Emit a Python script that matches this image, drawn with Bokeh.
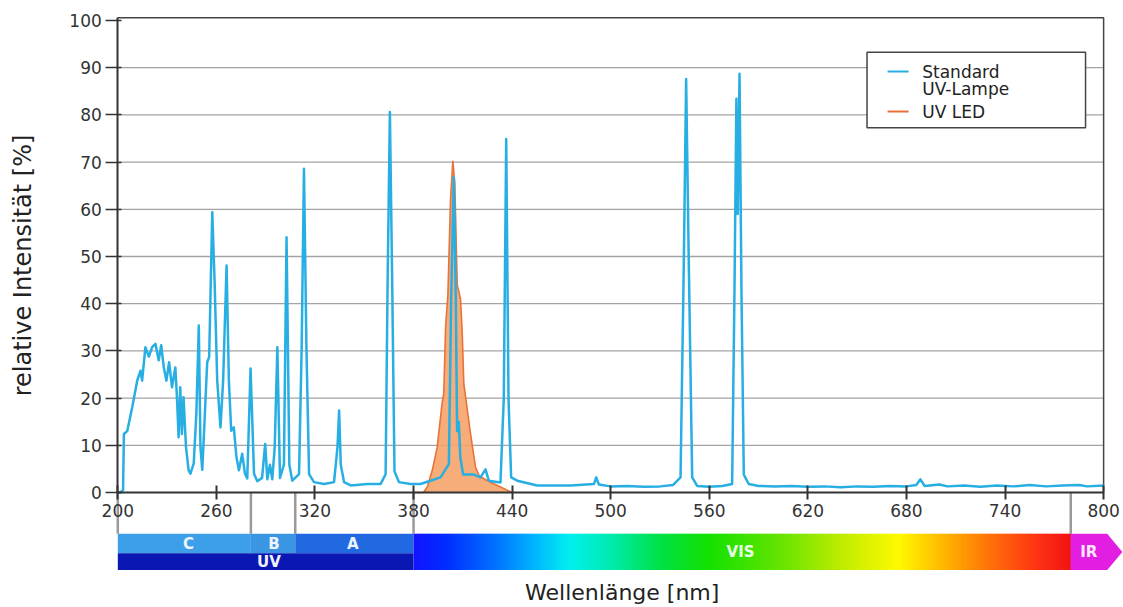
import numpy as np
from bokeh.plotting import figure
from bokeh.models import FixedTicker, Range1d
from bokeh.core.properties import value
from bokeh.embed import file_html
from bokeh.resources import INLINE

# ---------------- data ----------------
lamp_wl = [200, 201.5, 203.2, 203.7, 205.7, 208.8, 211.8, 213.8, 214.8, 216.8, 218.9, 220.9,
           222.9, 224.9, 226.4, 228, 229.6, 231.2, 233, 235, 236, 237, 238, 239, 240, 241.5,
           243.1, 244.2, 246.2, 247.8, 249.3, 250.3, 251.4, 253, 254.4, 255.6, 257.5, 258.9,
           260.5, 262.5, 264.1, 266.2, 267.6, 269, 270.6, 272.2, 273.7, 275.7, 277.4, 278.8,
           280.8, 282.9, 284.9, 287.8, 289.7, 291, 292.6, 294, 295.5, 297.1, 298.7, 301.1,
           302.7, 304.4, 306.2, 310.3, 311.9, 313.3, 314.8, 316.4, 319.4, 325.5, 331.6, 333.7,
           334.7, 335.7, 337.7, 341.8, 351.9, 360, 363, 364.2, 365.6, 367, 368.4, 371.1, 378.2,
           384.2, 390.3, 396.4, 401.5, 402.9, 404.5, 405.7, 406.5, 407.5, 408.5, 410.2, 416.7,
           420.7, 423.8, 425.8, 432.9, 434.9, 436.4, 437.8, 439.4, 443.1, 455.3, 475.6, 489.8,
           491.2, 492.8, 500, 510, 520, 530, 538, 542.5, 544.5, 545.9, 547.5, 549.6, 552.6, 560,
           568, 573.9, 575.3, 576.5, 577.3, 578.4, 579.6, 581, 584, 590, 600, 610, 620, 630, 640,
           650, 660, 670, 680, 686, 688.5, 691, 700, 705, 715, 725, 735, 745, 755, 765, 775, 785,
           790, 800]
lamp_int = [0, 0, 0.5, 12.4, 13, 18.1, 23.7, 25.8, 23.7, 30.8, 28.8, 30.8,
            31.5, 28, 31.2, 26.5, 23.7, 27.6, 22.3, 26.5, 20.2, 11.7, 22.3, 12.4, 20.2, 9.6,
            4.7, 4, 6.1, 16.7, 35.4, 9.6, 4.8, 16.7, 27.6, 28.7, 59.4, 44.8,
            23.7, 13.8, 23.7, 48.1, 23.7, 13.1, 13.8, 7.5, 4.7, 8.2, 4, 3,
            26.3, 4, 2.4, 3.1, 10.3, 2.8, 5.9, 2.8, 9.6, 30.8, 3.1, 5.9,
            54.1, 5.9, 2.5, 3.9, 30.8, 68.6, 30.8, 3.9, 2.2, 1.8, 2.2, 9.6,
            17.4, 5.9, 2.2, 1.5, 1.8, 1.8, 3.9, 44.5, 80.6, 44.5, 4.5, 2.2, 1.8,
            1.8, 2.5, 3.2, 6, 41.3, 66.8, 41.3, 13, 15, 7.3, 3.8, 3.8,
            3.2, 4.9, 2.5, 2.1, 19.8, 74.9, 19.8, 3.2, 2.5, 1.5, 1.5, 1.8,
            3.2, 1.7, 1.3, 1.4, 1.2, 1.3, 1.6, 3.2, 49, 87.6, 49, 3.2, 1.4, 1.2,
            1.4, 1.8, 42, 83.4, 59, 88.7, 42, 3.8, 1.8, 1.4, 1.3, 1.4, 1.2, 1.3, 1.1,
            1.3, 1.2, 1.4, 1.3, 1.6, 2.8, 1.4, 1.7, 1.3, 1.5, 1.2, 1.5, 1.3, 1.6, 1.3, 1.5, 1.6,
            1.3, 1.5]

led_wl = [380, 386, 388.3, 391.4, 394.4, 397.4, 398.4, 399.5, 400.9, 402.5, 403.9, 405.1,
          406.6, 408.6, 409.6, 410.6, 414.7, 417.7, 420, 425, 431, 437, 440]
led_int = [0, 0, 1.1, 4.7, 9.6, 19, 21, 35, 42, 62, 70.3, 65.5,
           44, 41, 34, 23, 12.4, 5.4, 3.5, 2.5, 1.5, 0.5, 0]

x_ticks = [200, 260, 320, 380, 440, 500, 560, 620, 680, 740, 800]
y_ticks = [0, 10, 20, 30, 40, 50, 60, 70, 80, 90, 100]

uv_sub_names = ["C", "B", "A"]
uv_sub_start = [200, 281, 308]
uv_sub_end = [281, 308, 380]
uv_name, uv_start, uv_end = "UV", 200, 380
vis_name, vis_start, vis_end = "VIS", 380, 780
ir_name, ir_start, ir_end = "IR", 780, 811.4
band_edges = [200, 281, 308, 380, 780]

legend_labels = ["Standard", "UV-Lampe", "UV LED"]
x_label = "Wellenlänge [nm]"
y_label = "relative Intensität [%]"

# ---------------- style ----------------
FONT = "DejaVu Sans"
LAMP = "#27aee3"
LED_LINE = "#e8733a"
LED_FILL = "#f6a46c"
AX = "#333333"
GRID = "#a3a3a3"
Y_TOP = 100.6
BAND_TOP, BAND_MID, BAND_BOT = -8.75, -12.86, -16.42

p = figure(width=1123, height=606, output_backend="svg", toolbar_location=None,
           x_range=Range1d(128.6, 812.1), y_range=Range1d(-24.15, 104.24),
           min_border_left=0, min_border_right=0, min_border_top=0, min_border_bottom=0)
p.outline_line_color = None
p.grid.visible = False
p.background_fill_color = "white"

# x axis at y = 0
xa = p.xaxis[0]
xa.fixed_location = 0
xa.ticker = FixedTicker(ticks=x_ticks)
xa.bounds = (200, 800)
xa.major_tick_in = 7
xa.major_tick_out = 7
xa.major_tick_line_width = 2
xa.major_tick_line_color = AX
xa.minor_tick_line_color = None
xa.axis_line_width = 2
xa.axis_line_color = AX
xa.major_label_text_font = FONT
xa.major_label_text_font_size = "17px"
xa.major_label_text_color = AX
xa.major_label_standoff = 4

# y axis at x = 200
ya = p.yaxis[0]
ya.fixed_location = 200
ya.ticker = FixedTicker(ticks=y_ticks)
ya.bounds = (0, Y_TOP)
ya.major_tick_in = 4
ya.major_tick_out = 12
ya.major_tick_line_width = 1.5
ya.major_tick_line_color = AX
ya.minor_tick_line_color = None
ya.axis_line_width = 2
ya.axis_line_color = AX
ya.major_label_text_font = FONT
ya.major_label_text_font_size = "17px"
ya.major_label_text_color = AX
ya.major_label_standoff = 4

# horizontal grid lines and box
grid_y = [t for t in y_ticks if 0 < t < 100]
p.segment(x0=200, x1=800, y0=grid_y, y1=grid_y, line_color=GRID, line_width=1.3)
p.line(x=[200, 800, 800], y=[Y_TOP, Y_TOP, 0], line_color="#444444", line_width=1.5)

# UV LED
p.varea(x=led_wl, y1=0, y2=led_int, fill_color=LED_FILL, fill_alpha=0.9)
p.line(x=led_wl, y=led_int, line_color=LED_LINE, line_width=1.6)

# Standard lamp
p.line(x=lamp_wl, y=lamp_int, line_color=LAMP, line_width=2.5, line_join="round")

# connectors down to the spectrum bar
p.segment(x0=band_edges, x1=band_edges, y0=0, y1=BAND_TOP, line_color="#9a9a9a", line_width=2.5)

# UV sub bands
p.quad(left=uv_sub_start, right=uv_sub_end, top=BAND_TOP, bottom=BAND_MID,
       fill_color=["#3d9fe8", "#3a96e2", "#2169e0"], line_color=None)
p.quad(left=[uv_start], right=[uv_end], top=BAND_MID, bottom=BAND_BOT,
       fill_color="#0b17b3", line_color=None)

# visible gradient
stops_wl = [380, 400, 430, 455, 475, 500, 530, 560, 600, 640, 675, 700, 730, 760, 780]
stops_rgb = [(20, 20, 255), (0, 45, 255), (0, 115, 255), (0, 185, 255), (0, 240, 240),
             (0, 235, 175), (0, 225, 70), (20, 225, 0), (95, 228, 0), (190, 236, 0),
             (255, 250, 0), (255, 190, 0), (255, 115, 10), (255, 50, 20), (240, 20, 20)]
gl = np.arange(vis_start, vis_end, 1.0)
rs = np.interp(gl + 0.5, stops_wl, [c[0] for c in stops_rgb])
gs = np.interp(gl + 0.5, stops_wl, [c[1] for c in stops_rgb])
bs = np.interp(gl + 0.5, stops_wl, [c[2] for c in stops_rgb])
cols = ["#%02x%02x%02x" % (int(r), int(g), int(b)) for r, g, b in zip(rs, gs, bs)]
p.quad(left=gl, right=np.minimum(gl + 2.0, vis_end), top=BAND_TOP, bottom=BAND_BOT,
       fill_color=cols, line_color=None)

# IR arrow
ir_mid = (BAND_TOP + BAND_BOT) / 2
p.patch(x=[ir_start, ir_end - 9.2, ir_end, ir_end - 9.2, ir_start],
        y=[BAND_TOP, BAND_TOP, ir_mid, BAND_BOT, BAND_BOT],
        fill_color="#e21ee2", line_color=None)

# band labels
sub_mid = (BAND_TOP + BAND_MID) / 2
uv_mid = (BAND_MID + BAND_BOT) / 2
p.text(x=[243, 295, 343], y=sub_mid, text=uv_sub_names, text_align="center",
       text_baseline="middle", text_color="#eef4ff", text_font=value(FONT),
       text_font_size=value("15px"), text_font_style="bold")
p.text(x=[292], y=uv_mid, text=[uv_name], text_align="center", text_baseline="middle",
       text_color="#eef4ff", text_font=value(FONT), text_font_size=value("15px"),
       text_font_style="bold")
p.text(x=[579, 791], y=ir_mid, text=[vis_name, ir_name], text_align="center",
       text_baseline="middle", text_color=["#e6ffe6", "#ffe6ff"], text_font=value(FONT),
       text_font_size=value("15px"), text_font_style="bold")

# axis titles
p.text(x=[507], y=-21.2, text=[x_label], text_align="center", text_baseline="middle",
       text_color="#222222", text_font=value(FONT), text_font_size=value("22px"))
p.text(x=[142.0], y=48.1, text=[y_label], angle=np.pi / 2, text_align="center",
       text_baseline="middle", text_color="#222222", text_font=value(FONT),
       text_font_size=value("24px"))

# legend
p.quad(left=[656], right=[789], top=[93.3], bottom=[77.3], fill_color="white",
       line_color="#444444", line_width=1.5)
p.segment(x0=668.5, x1=681.3, y0=[89.2, 80.7], y1=[89.2, 80.7],
          line_color=[LAMP, LED_LINE], line_width=2)
p.text(x=689.6, y=[89.05, 85.4, 80.7], text=legend_labels, text_align="left",
       text_baseline="middle", text_color="#222222", text_font=value(FONT),
       text_font_size=value("17px"))

open("out.html", "w").write(file_html(p, INLINE))
